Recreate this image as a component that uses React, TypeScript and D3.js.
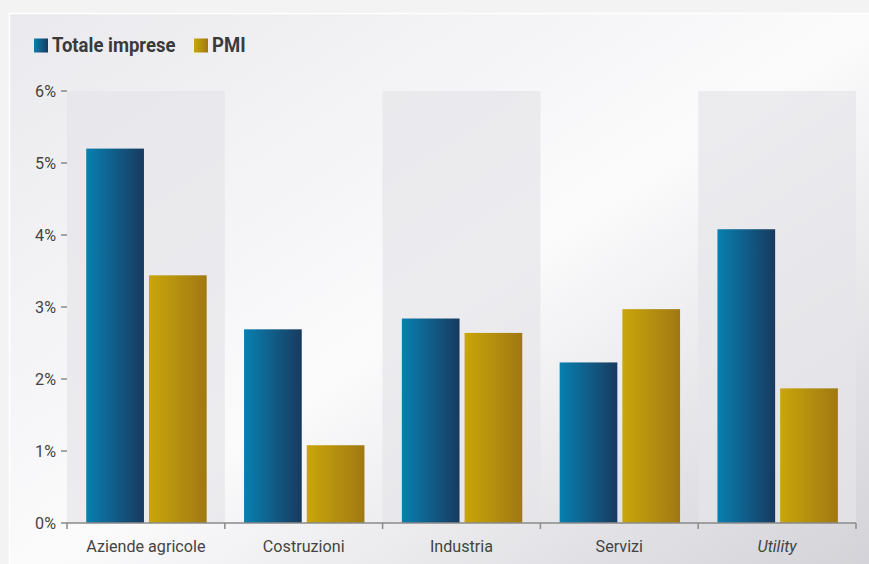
import React from "react";
import * as d3 from "d3";

const categories = ["Aziende agricole", "Costruzioni", "Industria", "Servizi", "Utility"];
const seriesNames = ["Totale imprese", "PMI"];
const totaleImprese = [5.2, 2.69, 2.84, 2.23, 4.08];
const pmi = [3.44, 1.08, 2.64, 2.97, 1.87];
const yTicks = [0, 1, 2, 3, 4, 5, 6];
const italicCategories = ["Utility"];

const W = 869;
const H = 564;
const margin = { left: 67, right: 13, top: 91, bottom: 41 };
const FONT = "Roboto, 'Noto Sans', sans-serif";
const SX = 0.95;

export default function App() {
  const x = d3
    .scaleBand<string>()
    .domain(categories)
    .range([margin.left, W - margin.right])
    .paddingInner(0)
    .paddingOuter(0);
  const bw = x.bandwidth();
  const inner = d3
    .scaleBand<string>()
    .domain(seriesNames)
    .range([bw * 0.122, bw * 0.885])
    .paddingInner(0.08);
  const y = d3.scaleLinear().domain([0, 6]).range([H - margin.bottom, margin.top]);
  const seriesValues = [totaleImprese, pmi];
  const grads = ["gBlue", "gGold"];
  const y0 = y(0);

  return (
    <div style={{ position: "absolute", left: 0, top: 0, width: W, height: H, overflow: "hidden" }}>
      <svg width={W} height={H} style={{ display: "block", fontFamily: FONT }}>
        <defs>
          <linearGradient id="bgGrad" x1="0" y1="0" x2="1" y2="1">
            <stop offset="0" stopColor="#eaeaee" />
            <stop offset="0.5" stopColor="#fbfbfc" />
            <stop offset="1" stopColor="#d0d0d6" />
          </linearGradient>
          <linearGradient id="gBlue" x1="0" y1="0" x2="1" y2="0">
            <stop offset="0" stopColor="#0880b0" />
            <stop offset="1" stopColor="#183a5f" />
          </linearGradient>
          <linearGradient id="gGold" x1="0" y1="0" x2="1" y2="0">
            <stop offset="0" stopColor="#c9a60a" />
            <stop offset="1" stopColor="#a07813" />
          </linearGradient>
        </defs>
        <rect x={0} y={0} width={W} height={H} fill="#f3f3f4" />
        <rect x={9.5} y={13.5} width={W + 10} height={H + 10} fill="url(#bgGrad)" stroke="#ffffff" strokeWidth={1.5} />

        {categories.map((c, i) =>
          i % 2 === 0 ? (
            <rect key={"band" + c} x={x(c)} y={y(6)} width={bw} height={y0 - y(6)} fill="#e6e6ea" opacity={0.7} />
          ) : null
        )}

        {categories.map((c, i) =>
          seriesNames.map((s, k) => {
            const v = seriesValues[k][i];
            return (
              <rect
                key={c + s}
                x={(x(c) as number) + (inner(s) as number)}
                y={y(v)}
                width={inner.bandwidth()}
                height={y0 - y(v)}
                fill={`url(#${grads[k]})`}
              />
            );
          })
        )}

        {yTicks.map((t) => (
          <g key={"yt" + t}>
            <line x1={margin.left - 6} x2={margin.left} y1={y(t)} y2={y(t)} stroke="#8a8a8a" strokeWidth={1.5} />
            <text
              transform={`translate(${margin.left - 11},${y(t) + 6}) scale(${SX},1)`}
              textAnchor="end"
              fontSize={17}
              fill="#444"
            >
              {t}%
            </text>
          </g>
        ))}

        <line x1={margin.left} x2={W - margin.right} y1={y0} y2={y0} stroke="#8a8a8a" strokeWidth={1.5} />
        {[...categories.map((c) => x(c) as number), W - margin.right].map((bx, i) => (
          <line key={"xt" + i} x1={bx} x2={bx} y1={y0} y2={y0 + 6} stroke="#8a8a8a" strokeWidth={1.5} />
        ))}
        {categories.map((c) => (
          <text
            key={"xl" + c}
            transform={`translate(${(x(c) as number) + bw / 2},${y0 + 29}) scale(${SX},1)`}
            textAnchor="middle"
            fontSize={17}
            fill="#444"
            fontStyle={italicCategories.includes(c) ? "italic" : "normal"}
          >
            {c}
          </text>
        ))}

        {seriesNames.map((s, k) => {
          const lx = k === 0 ? 34 : 194;
          return (
            <g key={"lg" + s}>
              <rect x={lx} y={38.5} width={14} height={14} fill={`url(#${grads[k]})`} />
              <text
                transform={`translate(${lx + 18},${52}) scale(${SX},1)`}
                fontSize={19.5}
                fontWeight="bold"
                fill="#3a3a3a"
              >
                {s}
              </text>
            </g>
          );
        })}
      </svg>
    </div>
  );
}
